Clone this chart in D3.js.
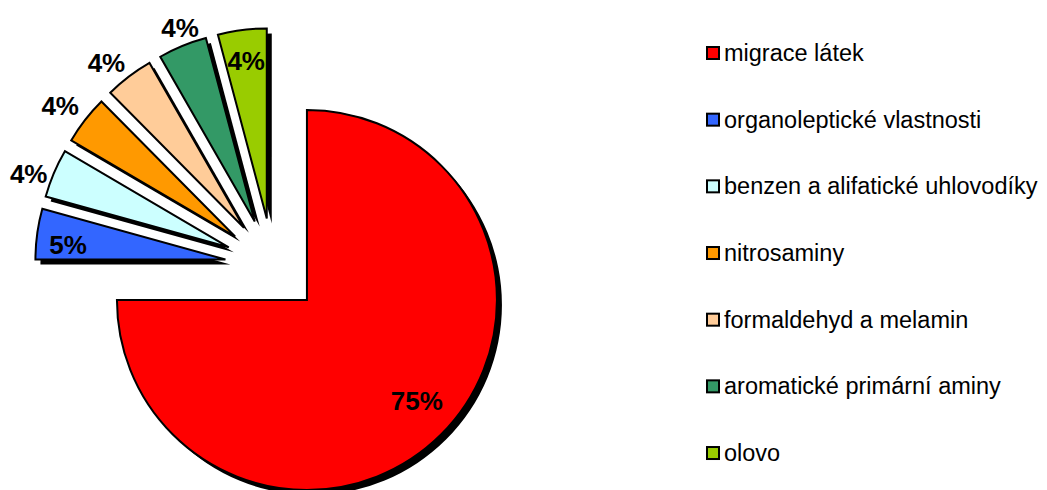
<!DOCTYPE html>
<html>
<head>
<meta charset="utf-8">
<script src="https://cdn.jsdelivr.net/npm/d3@7"></script>
<style>
  body { margin: 0; background: #fff; }
  svg { display: block; }
  text { font-family: Arial, "Liberation Sans", sans-serif; }
</style>
</head>
<body>
<svg id="chart" width="1047" height="490"></svg>
<script>
// data
var categories = ["migrace látek", "organoleptické vlastnosti", "benzen a alifatické uhlovodíky",
    "nitrosaminy", "formaldehyd a melamin", "aromatické primární aminy", "olovo"];
// slice sizes as measured from the drawing, and the percentages printed on it
var shares = [75, 4.3, 4.14, 4.14, 4.14, 4.14, 4.14];
var pctLabels = ["75%", "5%", "4%", "4%", "4%", "4%", "4%"];
var colors = ["#ff0000", "#3366ff", "#ccffff", "#ff9900", "#ffcc99", "#339966", "#99cc00"];

// layout of the percentage labels (distance from slice tip, small angle nudge in degrees)
var labelRadius = [149, 158, 213, 218, 215, 208, 159];
var labelNudge = [-2.5, -2.5, -2.9, -1.2, -2.5, 1.3, 0];

var svg = d3.select("#chart");
var cx = 273, cy = 266, R = 190, explode = 48;

var pie = d3.pie().sort(null).value(function(d) { return d; });
var arcs = pie(shares);
var arc = d3.arc().innerRadius(0).outerRadius(R);

function offset(d) {
    var a = (d.startAngle + d.endAngle) / 2;
    return [Math.sin(a) * explode, -Math.cos(a) * explode];
}

var g = svg.append("g").attr("transform", "translate(" + cx + "," + cy + ")");

// shadows first
g.selectAll(".shadow")
    .data(arcs)
    .enter().append("path")
    .attr("class", "shadow")
    .attr("d", arc)
    .attr("fill", "#000")
    .attr("transform", function(d) {
        var o = offset(d);
        return "translate(" + (o[0] + 5) + "," + (o[1] + 5) + ")";
    });

g.selectAll(".slice")
    .data(arcs)
    .enter().append("path")
    .attr("class", "slice")
    .attr("d", arc)
    .attr("fill", function(d, i) { return colors[i]; })
    .attr("stroke", "#000")
    .attr("stroke-width", 2)
    .attr("transform", function(d) {
        var o = offset(d);
        return "translate(" + o[0] + "," + o[1] + ")";
    });

g.selectAll(".pct")
    .data(arcs)
    .enter().append("text")
    .attr("class", "pct")
    .attr("x", function(d, i) {
        var a = (d.startAngle + d.endAngle) / 2 + labelNudge[i] * Math.PI / 180;
        return offset(d)[0] + Math.sin(a) * labelRadius[i];
    })
    .attr("y", function(d, i) {
        var a = (d.startAngle + d.endAngle) / 2 + labelNudge[i] * Math.PI / 180;
        return offset(d)[1] - Math.cos(a) * labelRadius[i];
    })
    .attr("text-anchor", "middle")
    .attr("dominant-baseline", "central")
    .style("font-size", "26px")
    .style("font-weight", "bold")
    .attr("fill", "#000")
    .text(function(d, i) { return pctLabels[i]; });

// legend
var legend = svg.append("g").attr("transform", "translate(707,53)");
var row = legend.selectAll(".item")
    .data(categories)
    .enter().append("g")
    .attr("class", "item")
    .attr("transform", function(d, i) { return "translate(0," + (i * 66.67) + ")"; });

row.append("rect")
    .attr("x", 0)
    .attr("y", -6)
    .attr("width", 12)
    .attr("height", 12)
    .attr("fill", function(d, i) { return colors[i]; })
    .attr("stroke", "#000")
    .attr("stroke-width", 2);

row.append("text")
    .attr("x", 17)
    .attr("y", 8)
    .style("font-size", "23.5px")
    .attr("fill", "#000")
    .text(function(d) { return d; });
</script>
</body>
</html>
